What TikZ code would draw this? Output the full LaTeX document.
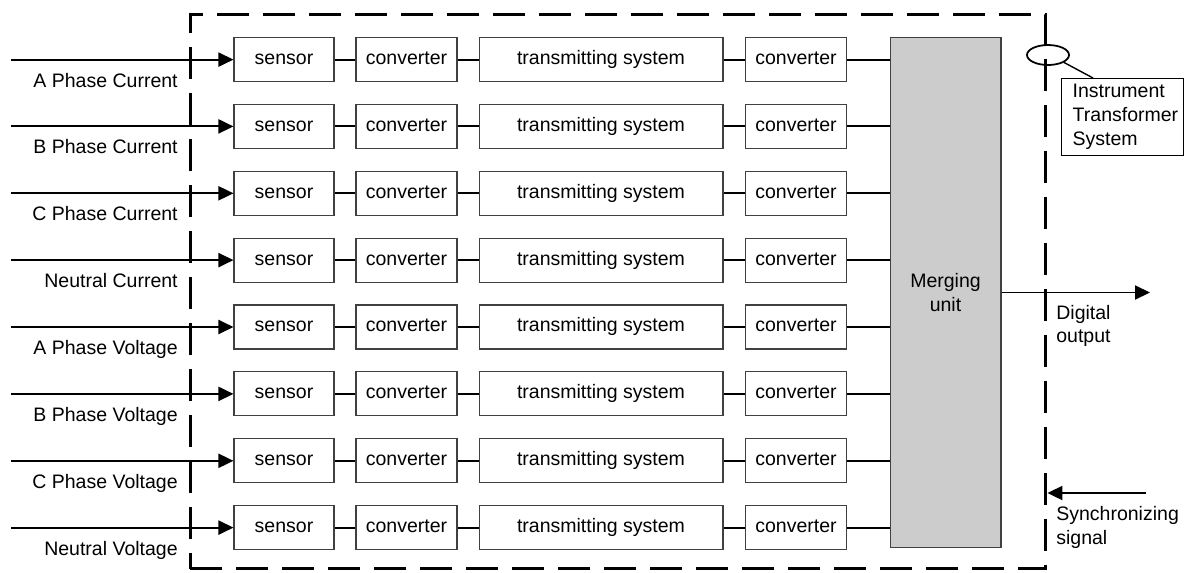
\documentclass[tikz,border=0pt]{standalone}
\usepackage{fontspec}
\setmainfont{Liberation Sans}
\usetikzlibrary{arrows.meta,shapes.geometric}

\tikzset{
  blk/.style={draw=black!75, line width=0.6pt, minimum height=0.88cm, inner sep=0pt, text height=0.76em, text depth=0.2em},
  sens/.style={blk, minimum width=2cm},
  conv/.style={blk, minimum width=2.02cm},
  trans/.style={blk, minimum width=4.88cm},
  wire/.style={line width=1.1pt},
  feed/.style={line width=1.1pt, -{Triangle[length=0.3cm,width=0.28cm]}},
  lbl/.style={inner sep=0pt},
}

\begin{document}
\begin{tikzpicture}[x=0.02cm, y=-0.02cm, font=\fontsize{11.1}{13.6}\selectfont]
			%%%%% FRAME %%%%%
			\useasboundingbox (0,0) rectangle (1185,572);
			
			\node[draw, line width=1.7pt, dash pattern=on 0.64cm off 0.28cm, minimum width=17.12cm, minimum height=11.1cm, inner sep=0pt] (itsys) at (618,291.5) {};
			
			\node[draw=black!75, line width=0.6pt, fill=black!20, minimum width=2.22cm, minimum height=10.22cm, inner sep=0pt, align=center] (merge) at (945.5,292.5) {Merging\\unit};
			
			%%%%% ROWS %%%%%
			\coordinate (in1) at (11,59.6);
			\node[sens] (sen1) at (284,59.6) {sensor};
			\node[conv] (cva1) at (406.5,59.6) {converter};
			\node[trans] (trs1) at (601,59.6) {transmitting system};
			\node[conv] (cvb1) at (796,59.6) {converter};
			\node[lbl, anchor=base east] (lab1) at (178,87) {A Phase Current};
			\draw[feed] (in1) -- (sen1);
			\draw[wire] (sen1) -- (cva1) -- (trs1) -- (cvb1) -- (cvb1 -| merge.west);
			
			\coordinate (in2) at (11,126.4);
			\node[sens] (sen2) at (284,126.4) {sensor};
			\node[conv] (cva2) at (406.5,126.4) {converter};
			\node[trans] (trs2) at (601,126.4) {transmitting system};
			\node[conv] (cvb2) at (796,126.4) {converter};
			\node[lbl, anchor=base east] (lab2) at (178,153.9) {B Phase Current};
			\draw[feed] (in2) -- (sen2);
			\draw[wire] (sen2) -- (cva2) -- (trs2) -- (cvb2) -- (cvb2 -| merge.west);
			
			\coordinate (in3) at (11,193.3);
			\node[sens] (sen3) at (284,193.3) {sensor};
			\node[conv] (cva3) at (406.5,193.3) {converter};
			\node[trans] (trs3) at (601,193.3) {transmitting system};
			\node[conv] (cvb3) at (796,193.3) {converter};
			\node[lbl, anchor=base east] (lab3) at (178,220.8) {C Phase Current};
			\draw[feed] (in3) -- (sen3);
			\draw[wire] (sen3) -- (cva3) -- (trs3) -- (cvb3) -- (cvb3 -| merge.west);
			
			\coordinate (in4) at (11,260.1);
			\node[sens] (sen4) at (284,260.1) {sensor};
			\node[conv] (cva4) at (406.5,260.1) {converter};
			\node[trans] (trs4) at (601,260.1) {transmitting system};
			\node[conv] (cvb4) at (796,260.1) {converter};
			\node[lbl, anchor=base east] (lab4) at (178,287.6) {Neutral Current};
			\draw[feed] (in4) -- (sen4);
			\draw[wire] (sen4) -- (cva4) -- (trs4) -- (cvb4) -- (cvb4 -| merge.west);
			
			\coordinate (in5) at (11,327);
			\node[sens] (sen5) at (284,327) {sensor};
			\node[conv] (cva5) at (406.5,327) {converter};
			\node[trans] (trs5) at (601,327) {transmitting system};
			\node[conv] (cvb5) at (796,327) {converter};
			\node[lbl, anchor=base east] (lab5) at (178,354.5) {A Phase Voltage};
			\draw[feed] (in5) -- (sen5);
			\draw[wire] (sen5) -- (cva5) -- (trs5) -- (cvb5) -- (cvb5 -| merge.west);
			
			\coordinate (in6) at (11,393.9);
			\node[sens] (sen6) at (284,393.9) {sensor};
			\node[conv] (cva6) at (406.5,393.9) {converter};
			\node[trans] (trs6) at (601,393.9) {transmitting system};
			\node[conv] (cvb6) at (796,393.9) {converter};
			\node[lbl, anchor=base east] (lab6) at (178,421.4) {B Phase Voltage};
			\draw[feed] (in6) -- (sen6);
			\draw[wire] (sen6) -- (cva6) -- (trs6) -- (cvb6) -- (cvb6 -| merge.west);
			
			\coordinate (in7) at (11,460.8);
			\node[sens] (sen7) at (284,460.8) {sensor};
			\node[conv] (cva7) at (406.5,460.8) {converter};
			\node[trans] (trs7) at (601,460.8) {transmitting system};
			\node[conv] (cvb7) at (796,460.8) {converter};
			\node[lbl, anchor=base east] (lab7) at (178,488.3) {C Phase Voltage};
			\draw[feed] (in7) -- (sen7);
			\draw[wire] (sen7) -- (cva7) -- (trs7) -- (cvb7) -- (cvb7 -| merge.west);
			
			\coordinate (in8) at (11,527.6);
			\node[sens] (sen8) at (284,527.6) {sensor};
			\node[conv] (cva8) at (406.5,527.6) {converter};
			\node[trans] (trs8) at (601,527.6) {transmitting system};
			\node[conv] (cvb8) at (796,527.6) {converter};
			\node[lbl, anchor=base east] (lab8) at (178,555.1) {Neutral Voltage};
			\draw[feed] (in8) -- (sen8);
			\draw[wire] (sen8) -- (cva8) -- (trs8) -- (cvb8) -- (cvb8 -| merge.west);
			
			%%%%% OUTSIDE %%%%%
			\coordinate (dout) at (1150,292.5);
			\draw[feed] (merge) -- (dout);
			\node[lbl, anchor=west, align=left] (dig) at (1056,326) {Digital\\output};
			
			\coordinate (syncsrc) at (1146,493);
			\draw[feed] (syncsrc) -- (syncsrc -| itsys.east);
			\node[lbl, anchor=west, align=left] (sync) at (1056,527) {Synchronizing\\signal};
			
			\node[draw, ellipse, line width=1pt, minimum width=0.84cm, minimum height=0.4cm, inner sep=0pt] (ring) at (1048,55) {};
			\node[draw, line width=0.8pt, anchor=north west, minimum width=2.44cm, minimum height=1.52cm, text width=2.0cm, inner xsep=0.22cm, align=left] (itsbox) at (1061,78) {Instrument\\Transformer\\System};
			\draw[line width=0.8pt] (ring.-25) -- ([xshift=0.64cm]itsbox.north west);
			
		\end{tikzpicture}
\end{document}
